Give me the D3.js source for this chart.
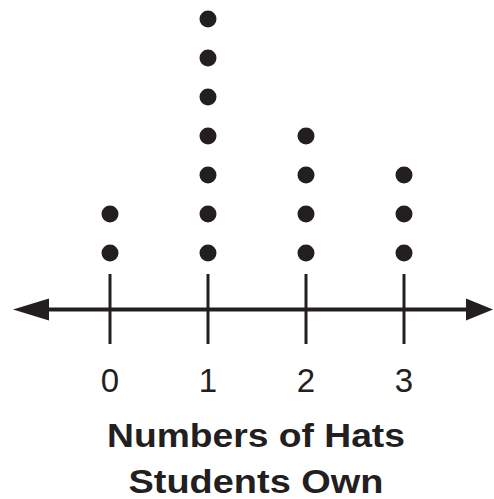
<!DOCTYPE html>
<html><head><meta charset="utf-8">
<script src="https://cdn.jsdelivr.net/npm/d3@7"></script>
<style>body{margin:0;background:#fff}svg{display:block}</style>
</head><body>
<svg id="c" width="494" height="499"></svg>
<script>
const categories = [0, 1, 2, 3];
const counts = [2, 7, 4, 3];
const tickLabels = ["0", "1", "2", "3"];
const titleLines = ["Numbers of Hats", "Students Own"];

const svg = d3.select("#c");
const ink = "#231f20";
const x = d3.scaleLinear().domain([0, 3]).range([110, 404]);
const y = d3.scaleLinear().domain([0, 1]).range([292, 253]); // stack level -> y
const axisY = 309.5;

// axis line
svg.append("line").attr("x1", 40).attr("x2", 470).attr("y1", axisY).attr("y2", axisY)
  .attr("stroke", ink).attr("stroke-width", 4);
// arrows
svg.append("path").attr("d", `M13,${axisY} L49,${axisY-11} L49,${axisY+11} Z`).attr("fill", ink);
svg.append("path").attr("d", `M493,${axisY} L466,${axisY-11} L466,${axisY+11} Z`).attr("fill", ink);

// ticks
svg.selectAll("line.tick").data(categories).join("line").attr("class", "tick")
  .attr("x1", d => x(d)).attr("x2", d => x(d)).attr("y1", 274).attr("y2", 344)
  .attr("stroke", ink).attr("stroke-width", 3);

svg.selectAll("text.tl").data(categories).join("text").attr("class", "tl")
  .attr("x", d => x(d)).attr("y", 392).attr("text-anchor", "middle")
  .attr("font-family", "Liberation Sans, Arial, sans-serif").attr("font-size", 33)
  .attr("fill", ink).text((d, i) => tickLabels[i]);

// dots
const pts = [];
categories.forEach((c, i) => { for (let k = 1; k <= counts[i]; k++) pts.push({c, k}); });
svg.selectAll("circle").data(pts).join("circle")
  .attr("cx", d => x(d.c)).attr("cy", d => y(d.k)).attr("r", 8.5).attr("fill", ink);

// title
const titleW = [298, 255];
svg.selectAll("text.title").data(titleLines).join("text").attr("class", "title")
  .attr("x", 256).attr("y", (d, i) => 447 + i * 46).attr("text-anchor", "middle")
  .attr("font-family", "Liberation Sans, Arial, sans-serif").attr("font-weight", "bold")
  .attr("font-size", 33.5).attr("fill", ink)
  .attr("textLength", (d, i) => titleW[i]).attr("lengthAdjust", "spacingAndGlyphs")
  .text(d => d);
</script>
</body></html>
